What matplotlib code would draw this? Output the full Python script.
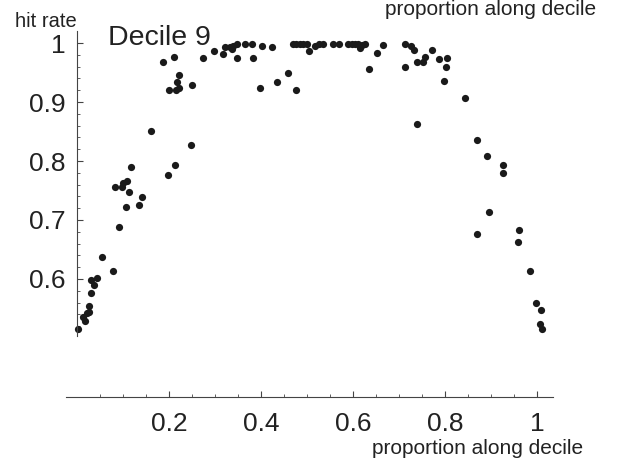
import matplotlib
matplotlib.use("Agg")
import matplotlib.pyplot as plt

plt.rcParams['font.family'] = ['Liberation Sans', 'DejaVu Sans']

# proportion along decile (x) and hit rate (y)
prop = [0.003, 0.014, 0.017, 0.021, 0.027, 0.025, 0.030, 0.037, 0.030, 0.044,
        0.055, 0.079, 0.091, 0.106, 0.135, 0.142, 0.083, 0.097, 0.101, 0.108,
        0.113, 0.118, 0.161, 0.197, 0.212, 0.248, 0.186, 0.211, 0.200, 0.217,
        0.221, 0.216, 0.222, 0.249, 0.273, 0.298, 0.317, 0.322, 0.333, 0.338,
        0.340, 0.347, 0.348, 0.365, 0.380, 0.383, 0.403, 0.423, 0.398, 0.435,
        0.459, 0.475, 0.470, 0.477, 0.485, 0.492, 0.499, 0.505, 0.517, 0.525,
        0.534, 0.557, 0.570, 0.590, 0.597, 0.604, 0.611, 0.619, 0.626, 0.615,
        0.635, 0.653, 0.666, 0.713, 0.725, 0.733, 0.712, 0.739, 0.739, 0.753,
        0.757, 0.772, 0.786, 0.804, 0.802, 0.798, 0.843, 0.869, 0.891, 0.927,
        0.927, 0.896, 0.870, 0.960, 0.959, 0.985, 0.997, 1.008, 1.007, 1.011]
hit_rate = [0.516, 0.536, 0.529, 0.542, 0.544, 0.555, 0.576, 0.589, 0.599, 0.602,
            0.638, 0.614, 0.688, 0.722, 0.725, 0.739, 0.756, 0.756, 0.762, 0.766,
            0.747, 0.789, 0.851, 0.777, 0.794, 0.827, 0.967, 0.976, 0.920, 0.934,
            0.945, 0.921, 0.923, 0.929, 0.975, 0.987, 0.981, 0.994, 0.994, 0.989,
            0.995, 0.998, 0.975, 0.998, 0.998, 0.975, 0.995, 0.993, 0.923, 0.934,
            0.950, 0.920, 0.999, 0.999, 0.999, 0.999, 0.999, 0.987, 0.995, 0.998,
            0.999, 0.999, 0.998, 0.998, 0.999, 0.999, 0.998, 0.997, 0.999, 0.991,
            0.956, 0.983, 0.997, 0.998, 0.995, 0.988, 0.960, 0.863, 0.967, 0.968,
            0.977, 0.988, 0.973, 0.974, 0.959, 0.936, 0.906, 0.835, 0.808, 0.794,
            0.779, 0.713, 0.677, 0.683, 0.663, 0.614, 0.560, 0.548, 0.523, 0.515]

x_ticks = [0.2, 0.4, 0.6, 0.8, 1.0]
x_tick_labels = ['0.2', '0.4', '0.6', '0.8', '1']
y_ticks = [0.6, 0.7, 0.8, 0.9, 1.0]
y_tick_labels = ['0.6', '0.7', '0.8', '0.9', '1']

fig = plt.figure(figsize=(6.21, 4.61), dpi=100)
ax = fig.add_axes([0, 0, 1, 1])
ax.set_facecolor('white')
ax.set_xlim(-0.1674, 1.1826)
ax.set_ylim(0.2915, 1.0729)

ax.plot(prop, hit_rate, 'o', color='#1a1a1a', markersize=5.2, markeredgewidth=0)

axis_col = '#444444'
for s in ['top', 'right']:
    ax.spines[s].set_visible(False)
ax.spines['left'].set_position(('data', 0))
ax.spines['left'].set_bounds(0.503, 1.02)
ax.spines['bottom'].set_position(('data', 0.4))
ax.spines['bottom'].set_bounds(-0.024, 1.035)
for s in ['left', 'bottom']:
    ax.spines[s].set_color(axis_col)
    ax.spines[s].set_linewidth(0.8)

ax.set_xticks(x_ticks)
ax.set_xticklabels(x_tick_labels)
ax.set_yticks(y_ticks)
ax.set_yticklabels(y_tick_labels)
ax.set_xticks([0.05, 0.1, 0.15, 0.25, 0.3, 0.35, 0.45, 0.5, 0.55, 0.65, 0.7, 0.75,
               0.85, 0.9, 0.95], minor=True)
ax.set_yticks([0.52, 0.54, 0.56, 0.58, 0.62, 0.64, 0.66, 0.68, 0.72, 0.74, 0.76,
               0.78, 0.82, 0.84, 0.86, 0.88, 0.92, 0.94, 0.96, 0.98], minor=True)
ax.tick_params(axis='both', which='major', direction='in', length=4.5, width=0.8,
               color=axis_col, labelsize=19, labelcolor='#222222')
ax.tick_params(axis='both', which='minor', direction='in', length=2.5, width=0.6,
               color=axis_col)
ax.tick_params(axis='x', which='major', pad=11)
ax.tick_params(axis='y', which='major', pad=8)

txt_col = '#222222'
ax.text(-0.135, 1.027, 'hit rate', fontsize=14.5, color=txt_col, ha='left', va='baseline')
ax.text(0.0674, 0.9966, 'Decile 9', fontsize=20.5, color=txt_col, ha='left', va='baseline')
ax.text(0.670, 1.0475, 'proportion along decile', fontsize=15, color=txt_col,
        ha='left', va='baseline')
ax.text(0.641, 0.3034, 'proportion along decile', fontsize=15, color=txt_col,
        ha='left', va='baseline')

fig.savefig('out.png', dpi=100, facecolor='white')
